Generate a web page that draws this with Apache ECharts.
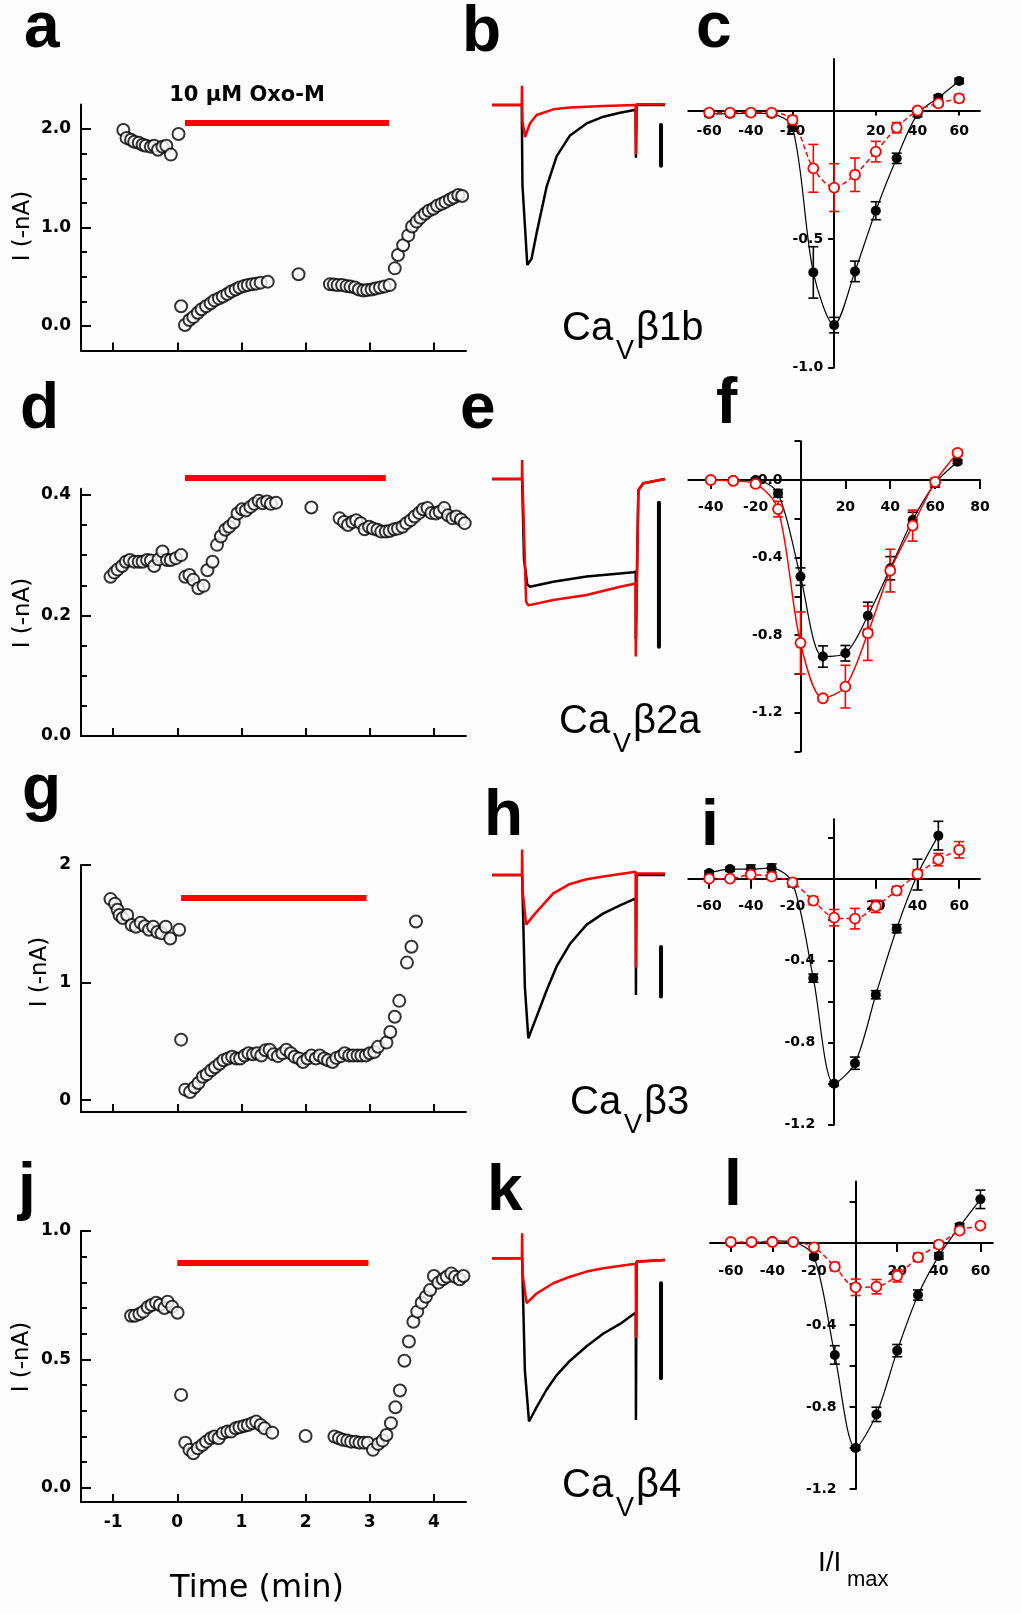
<!DOCTYPE html>
<html>
<head>
<meta charset="utf-8">
<script src="https://cdn.jsdelivr.net/npm/echarts@6/dist/echarts.min.js"></script>
<style>
html, body { margin: 0; background: #fdfdfd; }
#main { width: 1021px; height: 1614px; }
</style>
</head>
<body>
<div id="main"></div>
<script>
// ---- time course data: [time (min), I (-nA)] ----
var aCurrent = [
  [-0.84,1.99],[-0.79,1.91],[-0.72,1.89],[-0.67,1.87],[-0.60,1.86],[-0.54,1.84],[-0.49,1.83],[-0.41,1.82],[-0.36,1.83],[-0.30,1.79],[-0.23,1.82],[-0.17,1.83],[-0.10,1.74],[0.02,1.95],
  [0.06,0.20],[0.12,0.01],[0.19,0.06],[0.25,0.09],[0.32,0.135],[0.38,0.17],[0.45,0.20],[0.52,0.23],[0.58,0.26],[0.65,0.28],[0.71,0.30],[0.78,0.325],[0.84,0.35],[0.91,0.37],[0.97,0.39],[1.04,0.405],[1.10,0.415],[1.17,0.425],[1.23,0.43],[1.30,0.44],[1.41,0.45],
  [1.89,0.525],
  [2.38,0.425],[2.44,0.42],[2.50,0.415],[2.57,0.415],[2.64,0.405],[2.70,0.40],[2.77,0.39],[2.83,0.37],[2.90,0.36],[2.96,0.365],[3.03,0.37],[3.09,0.38],[3.16,0.39],[3.23,0.40],[3.31,0.415],
  [3.39,0.585],[3.44,0.72],[3.52,0.82],[3.60,0.92],[3.66,1.01],[3.73,1.06],[3.79,1.10],[3.86,1.14],[3.92,1.17],[3.99,1.19],[4.05,1.22],[4.12,1.24],[4.18,1.26],[4.25,1.285],[4.31,1.305],[4.38,1.33],[4.44,1.32]
];
var dCurrent = [
  [-1.04,0.264],[-0.98,0.271],[-0.93,0.276],[-0.86,0.282],[-0.80,0.289],[-0.74,0.292],[-0.67,0.289],[-0.60,0.289],[-0.54,0.289],[-0.47,0.292],[-0.41,0.291],[-0.36,0.282],[-0.29,0.293],[-0.23,0.306],[-0.16,0.292],[-0.10,0.292],[-0.02,0.295],[0.06,0.30],
  [0.125,0.264],[0.19,0.267],[0.25,0.259],[0.33,0.245],[0.41,0.249],[0.47,0.275],[0.55,0.289],[0.62,0.317],[0.68,0.331],[0.75,0.342],[0.81,0.347],[0.88,0.354],[0.94,0.369],[1.01,0.376],[1.07,0.374],[1.14,0.38],[1.20,0.385],[1.27,0.39],[1.33,0.386],[1.40,0.389],[1.46,0.385],[1.54,0.387],
  [2.09,0.379],
  [2.53,0.361],[2.60,0.355],[2.66,0.35],[2.73,0.355],[2.79,0.358],[2.86,0.353],[2.92,0.343],[2.99,0.347],[3.05,0.344],[3.12,0.342],[3.18,0.339],[3.25,0.339],[3.31,0.34],[3.38,0.343],[3.44,0.344],[3.51,0.347],[3.57,0.353],[3.64,0.358],[3.70,0.364],[3.77,0.37],[3.83,0.376],[3.90,0.378],[3.96,0.37],[4.03,0.369],[4.09,0.372],[4.16,0.378],[4.22,0.366],[4.29,0.361],[4.35,0.364],[4.42,0.359],[4.48,0.353]
];
var gCurrent = [
  [-1.04,1.71],[-0.97,1.67],[-0.93,1.62],[-0.90,1.575],[-0.85,1.55],[-0.78,1.575],[-0.71,1.49],[-0.645,1.475],[-0.57,1.51],[-0.505,1.48],[-0.44,1.45],[-0.375,1.475],[-0.31,1.43],[-0.245,1.42],[-0.18,1.475],[-0.11,1.375],[0.03,1.45],
  [0.06,0.515],[0.125,0.09],[0.20,0.07],[0.27,0.11],[0.33,0.147],[0.40,0.20],[0.46,0.22],[0.53,0.255],[0.59,0.28],[0.66,0.31],[0.72,0.34],[0.79,0.355],[0.855,0.37],[0.92,0.355],[0.98,0.355],[1.05,0.38],[1.11,0.40],[1.18,0.39],[1.245,0.40],[1.31,0.38],[1.375,0.425],[1.44,0.43],[1.50,0.39],[1.57,0.375],[1.64,0.40],[1.70,0.43],[1.77,0.40],[1.83,0.37],[1.90,0.355],[1.96,0.325],[2.03,0.355],[2.09,0.38],[2.16,0.355],[2.22,0.38],[2.29,0.355],[2.35,0.34],[2.42,0.325],[2.48,0.36],[2.55,0.375],[2.61,0.40],[2.68,0.38],[2.74,0.38],[2.81,0.38],[2.87,0.38],[2.94,0.38],[3.00,0.40],[3.07,0.41],[3.13,0.455],
  [3.26,0.49],[3.32,0.58],[3.39,0.71],[3.46,0.845],[3.58,1.17],[3.65,1.305],[3.72,1.52]
];
var jCurrent = [
  [-0.72,0.67],[-0.66,0.67],[-0.59,0.677],[-0.53,0.686],[-0.46,0.703],[-0.40,0.712],[-0.33,0.721],[-0.27,0.712],[-0.20,0.70],[-0.15,0.725],[-0.08,0.705],[0.005,0.682],
  [0.06,0.362],[0.125,0.176],[0.19,0.148],[0.25,0.135],[0.32,0.154],[0.39,0.167],[0.45,0.18],[0.52,0.193],[0.58,0.20],[0.645,0.193],[0.71,0.213],[0.78,0.219],[0.84,0.219],[0.91,0.232],[0.97,0.236],[1.04,0.241],[1.10,0.245],[1.17,0.252],[1.23,0.258],[1.30,0.245],[1.36,0.232],[1.48,0.215],
  [2.0,0.202],
  [2.45,0.20],[2.52,0.193],[2.58,0.187],[2.65,0.184],[2.71,0.18],[2.78,0.18],[2.84,0.176],[2.91,0.176],[2.97,0.176],[3.05,0.148],[3.13,0.171],[3.20,0.184],[3.26,0.206],[3.33,0.252],[3.40,0.314],[3.47,0.379],[3.54,0.495],[3.61,0.57],[3.68,0.647],[3.74,0.686],[3.81,0.721],[3.875,0.744],[3.94,0.77],[4.00,0.825],[4.07,0.799],[4.14,0.812],[4.20,0.822],[4.27,0.835],[4.33,0.822],[4.40,0.812],[4.46,0.825]
];
// Oxo-M application bars [start, end] and level
var aBar = [[0.12,2.06],[3.30,2.06]];
var dBar = [[0.12,0.428],[3.25,0.428]];
var gBar = [[0.06,1.72],[2.95,1.72]];
var jBar = [[0.0,0.875],[2.98,0.875]];
var timeTicks = [-1, 0, 1, 2, 3, 4];

// ---- current traces: [time (% of sweep), normalised current] ----
var bControl = [[0,0],[17.2,0],[17.6,-0.5],[20.4,-1.0],[22.9,-0.96],[25.8,-0.8],[31.6,-0.51],[37.4,-0.32],[45.1,-0.19],[54.7,-0.115],[64.4,-0.073],[74,-0.048],[83,-0.03],[83.2,-0.33],[83.6,0],[100,0]];
var bOxo = [[0,0],[17.2,0],[17.3,0.12],[17.6,-0.1],[19.1,-0.2],[22,-0.114],[25.8,-0.0625],[35.4,-0.027],[45,-0.015],[64.3,-0.006],[83,0],[83.2,-0.31],[83.5,0.005],[100,0.005]];
var bScale = [[97.7,-0.125],[97.7,-0.38]];
var eControl = [[0,0],[17.4,0],[18.5,-0.5],[20.4,-0.66],[22,-0.673],[35.4,-0.642],[54.7,-0.61],[74,-0.59],[81.7,-0.583],[83.1,-0.58],[83.12,-1.0],[84.6,-0.069],[87.5,-0.027],[100,0]];
var eOxo = [[0,0],[17.3,0],[17.4,0.119],[17.6,0],[19.7,-0.767],[21,-0.79],[35.4,-0.756],[54.7,-0.725],[74,-0.673],[81.7,-0.656],[83.0,-0.65],[83.1,-1.11],[84.6,-0.069],[87.5,-0.027],[100,0]];
var eScale = [[96.5,-0.148],[96.5,-1.048]];
var hControl = [[0,0],[17.4,0],[19,-0.7],[21,-1.02],[25.8,-0.885],[31.6,-0.72],[37.4,-0.57],[45.1,-0.43],[54.7,-0.31],[64.4,-0.24],[74,-0.19],[83.1,-0.146],[83.2,-0.75],[83.5,0],[100,0]];
var hOxo = [[0,0],[17.3,0],[17.4,0.16],[17.7,-0.1],[19.7,-0.31],[25.8,-0.23],[35.4,-0.115],[45.1,-0.056],[54.7,-0.027],[64.4,-0.01],[83,0.02],[83.2,-0.58],[83.6,0.01],[100,0.01]];
var hScale = [[97.7,-0.45],[97.7,-0.76]];
var kControl = [[0,0],[17.4,0],[19,-0.7],[21.4,-1.02],[25.8,-0.93],[31.6,-0.82],[37.4,-0.73],[45.1,-0.64],[54.7,-0.55],[64.4,-0.47],[74,-0.41],[81.7,-0.35],[83.1,-0.34],[83.2,-1.01],[83.6,-0.02],[100,-0.01]];
var kOxo = [[0,0],[17.3,0],[17.4,0.156],[17.7,-0.1],[20,-0.28],[25.8,-0.22],[35.4,-0.156],[45.1,-0.115],[54.7,-0.083],[64.4,-0.0625],[81.7,-0.036],[83.1,-0.035],[83.2,-0.5],[83.6,-0.02],[87,-0.02],[100,-0.01]];
var kScale = [[97.7,-0.156],[97.7,-0.75]];

// ---- I-V data: voltage (mV), normalised I, s.e.m. ----
var cVolt = [-60,-50,-40,-30,-20,-10,0,10,20,30,40,50,60];
var cCtrl = [-0.013,-0.013,-0.01,-0.013,-0.065,-0.63,-0.835,-0.626,-0.39,-0.186,-0.014,0.05,0.115];
var cCtrlErr = [0.01,0.01,0.01,0.01,0.015,0.1,0.03,0.04,0.035,0.02,0.01,0.01,0.01];
var cOxo = [-0.008,-0.008,-0.008,-0.008,-0.037,-0.225,-0.30,-0.25,-0.16,-0.067,0,0.028,0.047];
var cOxoErr = [0.01,0.01,0.01,0.01,0.015,0.093,0.093,0.065,0.04,0.02,0.01,0.01,0.015];

var fVolt = [-40,-30,-20,-10,0,10,20,30,40,50,60,70];
var fCtrl = [0,0,0,-0.069,-0.498,-0.91,-0.893,-0.70,-0.455,-0.206,-0.017,0.094];
var fCtrlErr = [0.01,0.01,0.01,0.02,0.045,0.055,0.04,0.07,0.06,0.04,0.02,0.01];
var fOxo = [0,-0.005,-0.02,-0.15,-0.84,-1.125,-1.065,-0.79,-0.467,-0.235,-0.01,0.14];
var fOxoErr = [0.01,0.01,0.015,0.04,0.16,0.01,0.11,0.14,0.11,0.08,0.02,0.015];

var iVoltCtrl = [-60,-50,-40,-30,-20,-10,0,10,20,30,40,50];
var iCtrl = [0.028,0.047,0.047,0.052,-0.02,-0.485,-1.0,-0.9,-0.566,-0.244,0.02,0.21];
var iCtrlErr = [0.01,0.01,0.02,0.02,0.02,0.02,0.01,0.03,0.02,0.02,0.075,0.07];
var iVolt = [-60,-50,-40,-30,-20,-10,0,10,20,30,40,50,60];
var iOxo = [0,0,0.02,0.01,-0.018,-0.107,-0.19,-0.195,-0.135,-0.058,0.023,0.093,0.141];
var iOxoErr = [0.01,0.01,0.01,0.01,0.01,0.02,0.04,0.05,0.03,0.02,0.02,0.03,0.04];

var lVolt = [-60,-50,-40,-30,-20,-10,0,10,20,30,40,50,60];
var lCtrl = [0,0,0.01,0.005,-0.067,-0.546,-1.0,-0.836,-0.525,-0.254,-0.063,0.08,0.213];
var lCtrlErr = [0.01,0.01,0.01,0.01,0.01,0.045,0.01,0.035,0.03,0.025,0.015,0.015,0.045];
var lOxo = [0.005,0.005,0.005,0.005,-0.021,-0.115,-0.216,-0.213,-0.16,-0.07,-0.008,0.06,0.085];
var lOxoErr = [0.01,0.01,0.01,0.01,0.015,0.02,0.04,0.035,0.03,0.02,0.015,0.01,0.01];

// ------------------------------------------------------------------
var grids = [], xAxes = [], yAxes = [], series = [];
var BOLD = { fontFamily: 'DejaVu Sans', fontWeight: 'bold', color: '#000' };
var black = { color: '#000', width: 2 };

function fix1(v) { return (Math.abs(v) < 1e-9 ? 0 : v).toFixed(1); }

function addTimePanel(p) {
  var gi = grids.length;
  grids.push({ left: 81, width: 385, top: p.top, height: p.bottom - p.top });
  var xi = xAxes.length;
  xAxes.push({
    type: 'value', gridIndex: gi, min: -1.5, max: 4.5,
    axisLine: { onZero: false, lineStyle: black },
    axisTick: { inside: true, length: 8, customValues: timeTicks, lineStyle: black },
    axisLabel: Object.assign({ show: !!p.showX, customValues: timeTicks, margin: 12, fontSize: 17,
      formatter: function (v) { return String(v); } }, BOLD),
    splitLine: { show: false }
  });
  var yi = yAxes.length;
  yAxes.push({
    type: 'value', gridIndex: gi, position: 'left', min: p.ymin, max: p.ymax,
    axisLine: { onZero: false, lineStyle: black },
    axisTick: { inside: true, length: 10, customValues: p.majors, lineStyle: black },
    axisLabel: Object.assign({ customValues: p.majors, margin: 10, fontSize: 17, formatter: p.fmt }, BOLD),
    splitLine: { show: false }
  });
  if (p.minors.length) {
    yAxes.push({
      type: 'value', gridIndex: gi, position: 'left', min: p.ymin, max: p.ymax,
      axisLine: { show: false, onZero: false },
      axisTick: { inside: true, length: 6, customValues: p.minors, lineStyle: black },
      axisLabel: { show: false }, splitLine: { show: false }
    });
  }
  series.push({ type: 'scatter', xAxisIndex: xi, yAxisIndex: yi, data: p.data, symbol: 'circle', symbolSize: 12,
    itemStyle: { color: '#fff', borderColor: '#000', borderWidth: 2 }, z: 3 });
  series.push({ type: 'line', xAxisIndex: xi, yAxisIndex: yi, data: p.bar, symbol: 'none', clip: false,
    lineStyle: { color: '#ff0000', width: 6, cap: 'butt' }, z: 2 });
}

function addTracePanel(top, ctrl, oxo, bar) {
  var gi = grids.length;
  grids.push({ left: 492, width: 173, top: top, height: 224 });
  var xi = xAxes.length, yi = yAxes.length;
  xAxes.push({ type: 'value', gridIndex: gi, min: 0, max: 100, show: false });
  yAxes.push({ type: 'value', gridIndex: gi, min: -1.2, max: 0.2, show: false });
  series.push({ type: 'line', xAxisIndex: xi, yAxisIndex: yi, data: ctrl, symbol: 'none',
    lineStyle: { color: '#000', width: 2.5 }, z: 2 });
  series.push({ type: 'line', xAxisIndex: xi, yAxisIndex: yi, data: oxo, symbol: 'none',
    lineStyle: { color: '#ff0000', width: 2.5 }, z: 3 });
  series.push({ type: 'line', xAxisIndex: xi, yAxisIndex: yi, data: bar, symbol: 'none',
    lineStyle: { color: '#000', width: 4, cap: 'round' }, z: 3 });
}

function errSeries(xi, yi, xs, ys, es, color) {
  return {
    type: 'custom', xAxisIndex: xi, yAxisIndex: yi, z: 2,
    data: xs.map(function (x, i) { return [x, ys[i], es[i]]; }),
    renderItem: function (params, api) {
      var x = api.value(0), y = api.value(1), e = api.value(2);
      var t = api.coord([x, y + e]), b = api.coord([x, y - e]);
      var st = { stroke: color, lineWidth: 1.6 };
      return { type: 'group', children: [
        { type: 'line', shape: { x1: t[0], y1: t[1], x2: b[0], y2: b[1] }, style: st },
        { type: 'line', shape: { x1: t[0] - 5, y1: t[1], x2: t[0] + 5, y2: t[1] }, style: st },
        { type: 'line', shape: { x1: b[0] - 5, y1: b[1], x2: b[0] + 5, y2: b[1] }, style: st }
      ] };
    }
  };
}

function pairs(xs, ys) { return xs.map(function (x, i) { return [x, ys[i]]; }); }

function addIVPanel(p) {
  var gi = grids.length;
  grids.push({ left: p.left, width: p.width, top: p.top, height: p.height });
  var xi = xAxes.length, yi = yAxes.length;
  var thin = { color: '#000', width: 2 };
  // axes cross at the origin: shift them in from the grid edges
  var xShift = -p.height * (0 - p.ymin) / (p.ymax - p.ymin);
  var yShift = -p.width * (0 - p.xmin) / (p.xmax - p.xmin);
  xAxes.push({
    type: 'value', gridIndex: gi, min: p.xmin, max: p.xmax, position: 'bottom', offset: xShift,
    axisLine: { onZero: false, lineStyle: thin },
    axisTick: { length: p.xTickLen, customValues: p.xTicks, lineStyle: thin },
    axisLabel: Object.assign({ customValues: p.xTicks, margin: p.xMargin, fontSize: 14,
      formatter: function (v) { return String(v); } }, BOLD),
    splitLine: { show: false }
  });
  yAxes.push({
    type: 'value', gridIndex: gi, min: p.ymin, max: p.ymax, position: 'left', offset: yShift,
    axisLine: { onZero: false, lineStyle: thin },
    axisTick: { length: 6, customValues: p.yTicks, lineStyle: thin },
    axisLabel: Object.assign({ customValues: p.yLabels, margin: p.yMargin, fontSize: 14, formatter: fix1 }, BOLD),
    splitLine: { show: false }
  });
  series.push({ type: 'line', xAxisIndex: xi, yAxisIndex: yi, data: pairs(p.ctrlV, p.ctrl), smooth: 0.3,
    symbol: 'circle', symbolSize: 10, itemStyle: { color: '#000' }, lineStyle: { color: '#000', width: 1.2 }, z: 3 });
  series.push(errSeries(xi, yi, p.ctrlV, p.ctrl, p.ctrlErr, '#000'));
  series.push({ type: 'line', xAxisIndex: xi, yAxisIndex: yi, data: pairs(p.oxoV, p.oxo), smooth: 0.3,
    symbol: 'circle', symbolSize: 10, itemStyle: { color: '#fff', borderColor: '#ff0000', borderWidth: 1.8 },
    lineStyle: { color: '#ff0000', width: 1.5, type: p.oxoDash ? [5, 3] : 'solid' }, z: 4 });
  series.push(errSeries(xi, yi, p.oxoV, p.oxo, p.oxoErr, '#ff0000'));
}

// left column: time courses
addTimePanel({ top: 104.4, bottom: 350.6, ymin: -0.25, ymax: 2.25, majors: [0, 1, 2],
  minors: [0.25, 0.5, 0.75, 1.25, 1.5, 1.75], fmt: fix1, data: aCurrent, bar: aBar });
addTimePanel({ top: 488.8, bottom: 736, ymin: 0, ymax: 0.41, majors: [0, 0.2, 0.4],
  minors: [0.05, 0.1, 0.15, 0.25, 0.3, 0.35], fmt: fix1, data: dCurrent, bar: dBar });
addTimePanel({ top: 865, bottom: 1112, ymin: -0.1, ymax: 2, majors: [0, 1, 2],
  minors: [], fmt: function (v) { return String(v); }, data: gCurrent, bar: gBar });
addTimePanel({ top: 1231, bottom: 1502, ymin: -0.055, ymax: 1, majors: [0, 0.5, 1],
  minors: [0.1, 0.2, 0.3, 0.4, 0.6, 0.7, 0.8, 0.9], fmt: fix1, data: jCurrent, bar: jBar, showX: true });

// middle column: traces
addTracePanel(73, bControl, bOxo, bScale);
addTracePanel(447, eControl, eOxo, eScale);
addTracePanel(843, hControl, hOxo, hScale);
addTracePanel(1226.3, kControl, kOxo, kScale);

// right column: I-V relations
addIVPanel({ left: 688.3, width: 291.7, top: 59.1, height: 308.4, xmin: -70, xmax: 70, ymin: -1.0, ymax: 0.2,
  xTicks: [-60, -40, -20, 20, 40, 60], xTickLen: 5, yTicks: [-1, -0.5], yLabels: [-1, -0.5], xMargin: 14, yMargin: 11,
  ctrlV: cVolt, ctrl: cCtrl, ctrlErr: cCtrlErr, oxoV: cVolt, oxo: cOxo, oxoErr: cOxoErr, oxoDash: true });
addIVPanel({ left: 688.3, width: 291.7, top: 441.2, height: 310.4, xmin: -50, xmax: 80, ymin: -1.4, ymax: 0.2,
  xTicks: [-40, -20, 20, 40, 60, 80], xTickLen: 9, yTicks: [0.2, -0.2, -0.4, -0.6, -0.8, -1.0, -1.2, -1.4], yLabels: [0, -0.4, -0.8, -1.2],
  xMargin: 20, yMargin: 18,
  ctrlV: fVolt, ctrl: fCtrl, ctrlErr: fCtrlErr, oxoV: fVolt, oxo: fOxo, oxoErr: fOxoErr, oxoDash: false });
addIVPanel({ left: 688.3, width: 291.7, top: 819.25, height: 305.45, xmin: -70, xmax: 70, ymin: -1.2, ymax: 0.29,
  xTicks: [-60, -40, -20, 20, 40, 60], xTickLen: 10, yTicks: [0.2, -0.2, -0.4, -0.6, -0.8, -1.0, -1.2], yLabels: [-0.4, -0.8, -1.2],
  xMargin: 21, yMargin: 19,
  ctrlV: iVoltCtrl, ctrl: iCtrl, ctrlErr: iCtrlErr, oxoV: iVolt, oxo: iOxo, oxoErr: iOxoErr, oxoDash: true });
addIVPanel({ left: 710, width: 282.9, top: 1181.5, height: 307.5, xmin: -70, xmax: 66, ymin: -1.2, ymax: 0.3,
  xTicks: [-60, -40, -20, 20, 40, 60], xTickLen: 9, yTicks: [0.2, -0.2, -0.4, -0.6, -0.8, -1.0, -1.2], yLabels: [-0.4, -0.8, -1.2],
  xMargin: 21, yMargin: 19,
  ctrlV: lVolt, ctrl: lCtrl, ctrlErr: lCtrlErr, oxoV: lVolt, oxo: lOxo, oxoErr: lOxoErr, oxoDash: true });

// ---- text ----
function txt(s, x, baseline, size, o) {
  o = o || {};
  return { type: 'text', x: x, y: baseline - 0.35 * size, z: 10, rotation: o.rot || 0,
    style: { text: s, fontSize: size, fontFamily: o.family || 'Liberation Sans', fontWeight: o.weight || 'normal',
      fill: '#000', align: o.align || 'left', verticalAlign: 'middle' } };
}
function yLabel(cx, cy) {
  return { type: 'text', x: cx, y: cy, rotation: Math.PI / 2, z: 10,
    style: { text: 'I (-nA)', fontSize: 23, fontFamily: 'DejaVu Sans', fill: '#000', align: 'center', verticalAlign: 'middle' } };
}
function caLabel(x, baseline, rest) {
  return [txt('Ca', x, baseline, 40), txt('V', x + 54, baseline + 18, 27), txt(rest, x + 74, baseline, 40)];
}
var LB = { weight: 'bold' };
var graphics = [
  txt('a', 24, 52, 64, LB), txt('b', 462, 56, 64, LB), txt('c', 696, 52, 64, LB),
  txt('d', 20, 433, 64, LB), txt('e', 460, 433, 64, LB), txt('f', 716, 428, 64, LB),
  txt('g', 22, 814, 64, LB), txt('h', 484, 840, 64, LB), txt('i', 701, 850, 64, LB),
  txt('j', 18, 1213, 64, LB), txt('k', 487, 1215, 64, LB), txt('l', 724, 1210, 64, LB),
  txt('10 µM Oxo-M', 247, 103, 21, { family: 'DejaVu Sans', weight: 'bold', align: 'center' }),
  txt('Time (min)', 257, 1600, 32, { family: 'DejaVu Sans', align: 'center' }),
  txt('I/I', 818, 1573, 28), txt('max', 847, 1588, 22),
  yLabel(23, 226), yLabel(23, 613), yLabel(40, 972), yLabel(22, 1357)
].concat(caLabel(562, 343, 'β1b'), caLabel(559, 736, 'β2a'), caLabel(570, 1117, 'β3'), caLabel(562, 1500, 'β4'));

var chart = echarts.init(document.getElementById('main'));
chart.setOption({
  animation: false,
  backgroundColor: '#fdfdfd',
  grid: grids,
  xAxis: xAxes,
  yAxis: yAxes,
  series: series,
  graphic: graphics
});
</script>
</body>
</html>
